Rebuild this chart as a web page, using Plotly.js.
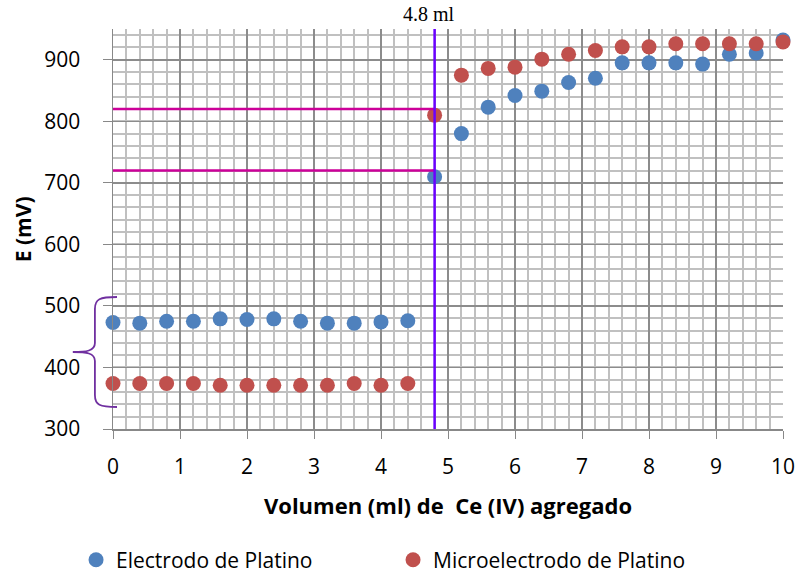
<!DOCTYPE html>
<html>
<head>
<meta charset="utf-8">
<script src="https://cdn.plot.ly/plotly-3.0.1.min.js"></script>
<style>html,body{margin:0;padding:0;background:#fff;}#chart{width:809px;height:575px;}</style>
</head>
<body>
<div id="chart"></div>
<script>
// Data
const volume = [0, 0.4, 0.8, 1.2, 1.6, 2.0, 2.4, 2.8, 3.2, 3.6, 4.0, 4.4, 4.8, 5.2, 5.6, 6.0, 6.4, 6.8, 7.2, 7.6, 8.0, 8.4, 8.8, 9.2, 9.6, 10];
const electrodo = [473, 472, 475, 475, 479, 478, 479, 475, 472, 472, 474, 476, 710, 780, 823, 842, 849, 863, 870, 895, 895, 895, 893, 909, 911, 932];
const microelectrodo = [374, 374, 374, 374, 371, 371, 371, 371, 371, 374, 371, 374, 810, 875, 886, 888, 901, 909, 915, 921, 921, 926, 926, 926, 926, 929];
const seriesNames = ["Electrodo de Platino", "Microelectrodo de Platino"];
const equivalenceVolume = 4.8;
const refLevels = [820, 720];
const xTicks = [0,1,2,3,4,5,6,7,8,9,10];
const yTicks = [300,400,500,600,700,800,900];

const font = "'Open Sans', Lato, sans-serif";
const traces = [
  {x: volume, y: electrodo, name: seriesNames[0], type: 'scatter', mode: 'markers', cliponaxis: false,
   marker: {color: '#4f81bd', size: 15}},
  {x: volume, y: microelectrodo, name: seriesNames[1], type: 'scatter', mode: 'markers', cliponaxis: false,
   marker: {color: '#c0504d', size: 15}}
];

const shapes = [];
refLevels.forEach(v => shapes.push({type: 'line', xref: 'x', yref: 'y', x0: 0, x1: equivalenceVolume, y0: v, y1: v,
  line: {color: '#cc0099', width: 2.5}, layer: 'above'}));
shapes.push({type: 'line', xref: 'x', yref: 'y', x0: equivalenceVolume, x1: equivalenceVolume, y0: 300, y1: 950,
  line: {color: '#6a00ff', width: 2.5}, layer: 'above'});
// curly brace on left
shapes.push({type: 'path', xref: 'paper', yref: 'paper',
  path: 'M 0.006 0.33 C -0.02 0.33 -0.027 0.325 -0.027 0.30 L -0.027 0.215 C -0.027 0.195 -0.04 0.1925 -0.06 0.1925 C -0.04 0.1925 -0.027 0.19 -0.027 0.17 L -0.027 0.085 C -0.027 0.06 -0.02 0.055 0.006 0.055',
  line: {color: '#7030a0', width: 1.8}});

const layout = {
  width: 809, height: 575,
  margin: {l: 113, r: 26, t: 29, b: 146},
  paper_bgcolor: '#fff', plot_bgcolor: '#fff',
  font: {family: font, color: '#000', size: 18},
  showlegend: true,
  legend: {orientation: 'h', xref: 'container', yref: 'container', x: 0.094, xanchor: 'left', y: 0.026, yanchor: 'middle',
    font: {family: font, size: 21, color: '#000'}, entrywidth: 272, entrywidthmode: 'pixels', itemwidth: 30},
  xaxis: {range: [0, 10], tickvals: xTicks, ticks: 'outside', ticklen: 8, tickcolor: '#888', ticklabelstandoff: 10,
    showline: true, linecolor: '#888', linewidth: 1.5,
    showgrid: true, gridcolor: '#8c8c8c', gridwidth: 1.5, zeroline: false,
    minor: {dtick: 0.2, showgrid: true, gridcolor: '#c0c0c0', gridwidth: 2},
    tickfont: {size: 21, family: font},
    title: {text: '<b>Volumen (ml) de  Ce (IV) agregado</b>', font: {size: 22, family: font}, standoff: 20}},
  yaxis: {range: [300, 950], tickvals: yTicks, ticks: 'outside', ticklen: 9, tickcolor: '#888', ticklabelstandoff: 18,
    showline: true, linecolor: '#888', linewidth: 1.5,
    showgrid: true, gridcolor: '#8c8c8c', gridwidth: 1.5, zeroline: false,
    minor: {dtick: 20, showgrid: true, gridcolor: '#c0c0c0', gridwidth: 2},
    tickfont: {size: 21, family: font}},
  shapes: shapes,
  annotations: [
    {xref: 'x', yref: 'paper', x: equivalenceVolume, y: 1, yanchor: 'bottom', yshift: 2, xshift: -6,
     text: '4.8 ml', showarrow: false, font: {family: "'Liberation Serif', 'DejaVu Serif', serif", size: 20, color: '#000'}},
    {xref: 'paper', yref: 'paper', x: -0.134, y: 0.5, xanchor: 'center', yanchor: 'middle', textangle: -90,
     text: '<b>E (mV)</b>', showarrow: false, font: {family: font, size: 21, color: '#000'}}
  ]
};

Plotly.newPlot('chart', traces, layout, {displayModeBar: false, staticPlot: true});
</script>
</body>
</html>
